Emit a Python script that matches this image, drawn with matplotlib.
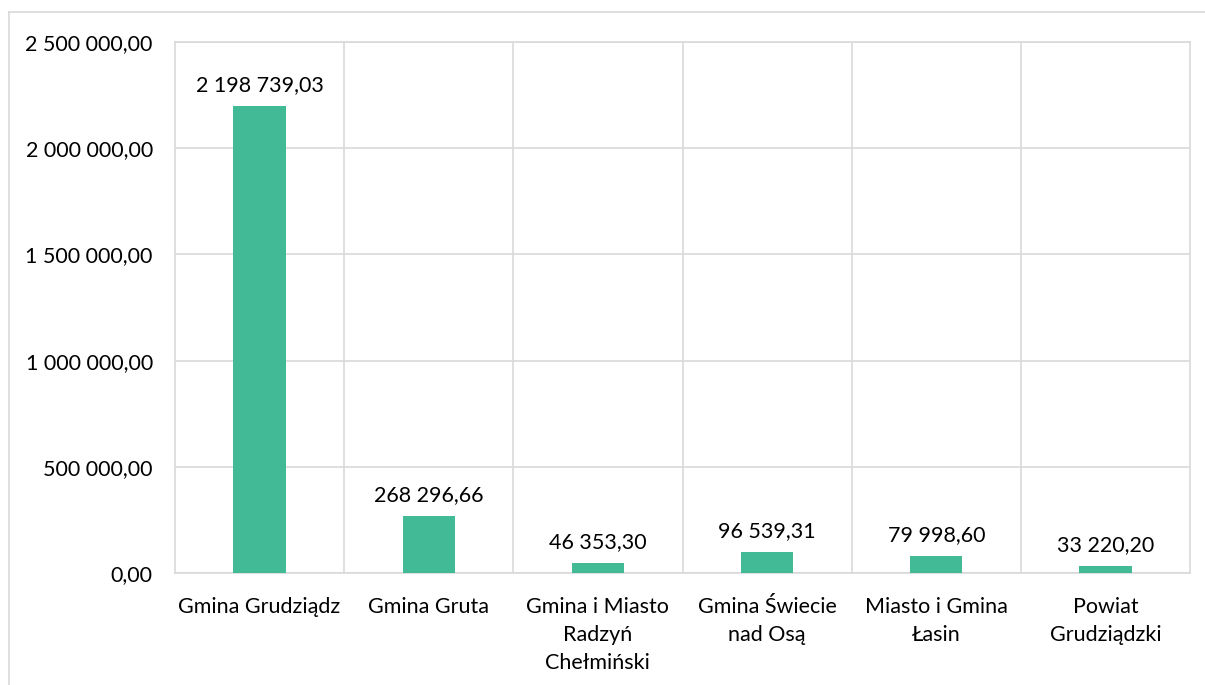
#!/usr/bin/env python3
"""Bar chart: amounts per gmina / powiat, Excel-like styling."""

import matplotlib
matplotlib.use("Agg")
import matplotlib.pyplot as plt
from matplotlib.lines import Line2D
from matplotlib.ticker import FuncFormatter, MultipleLocator

categories = [
    "Gmina Grudziądz",
    "Gmina Gruta",
    "Gmina i Miasto\nRadzyń\nChełmiński",
    "Gmina Świecie\nnad Osą",
    "Miasto i Gmina\nŁasin",
    "Powiat\nGrudziądzki",
]
values = [2198739.03, 268296.66, 46353.30, 96539.31, 79998.60, 33220.20]

BAR_COLOR = "#43BA96"
GRID = "#D9D9D9"
TEXT = "#000000"
FS = 15.5

plt.rcParams["font.family"] = ["Lato", "DejaVu Sans"]


def pl_fmt(v, pos=None):
    s = f"{v:,.2f}"
    return s.replace(",", " ").replace(".", ",")


W, H = 1205, 685
fig = plt.figure(figsize=(W / 100, H / 100), dpi=100)
left, right, top, bottom = 175, 1190, 42, 573
ax = fig.add_axes([left / W, 1 - bottom / H, (right - left) / W, (bottom - top) / H])

xs = range(len(categories))
ax.bar(xs, values, width=0.31, color=BAR_COLOR, zorder=3)
for x, v in zip(xs, values):
    ax.annotate(pl_fmt(v), (x, v), xytext=(0, 8), textcoords="offset points",
                ha="center", va="bottom", fontsize=FS, color=TEXT)

ax.set_xlim(-0.5, len(categories) - 0.5)
ax.set_ylim(0, 2500000)
ax.yaxis.set_major_locator(MultipleLocator(500000))
ax.yaxis.set_major_formatter(FuncFormatter(pl_fmt))
ax.set_xticks(list(xs))
ax.set_xticklabels(categories, fontsize=FS, color=TEXT, linespacing=1.5, va="top")
ax.set_xticks([i + 0.5 for i in range(len(categories) - 1)], minor=True)
ax.tick_params(axis="y", length=0, pad=16, labelsize=FS, colors=TEXT)
ax.tick_params(axis="x", which="both", length=0, pad=17)
ax.grid(axis="y", color=GRID, linewidth=1.2, zorder=0)
ax.grid(axis="x", which="minor", color=GRID, linewidth=1.2, zorder=0)
for s in ax.spines.values():
    s.set_color(GRID)
    s.set_linewidth(1.2)

# outer chart frame (top + left visible)
fig.add_artist(Line2D([9 / W, 1], [1 - 12 / H, 1 - 12 / H], color=GRID, lw=1.2))
fig.add_artist(Line2D([9 / W, 9 / W], [0, 1 - 12 / H], color=GRID, lw=1.2))

fig.savefig("out.png", dpi=100, facecolor="white")
